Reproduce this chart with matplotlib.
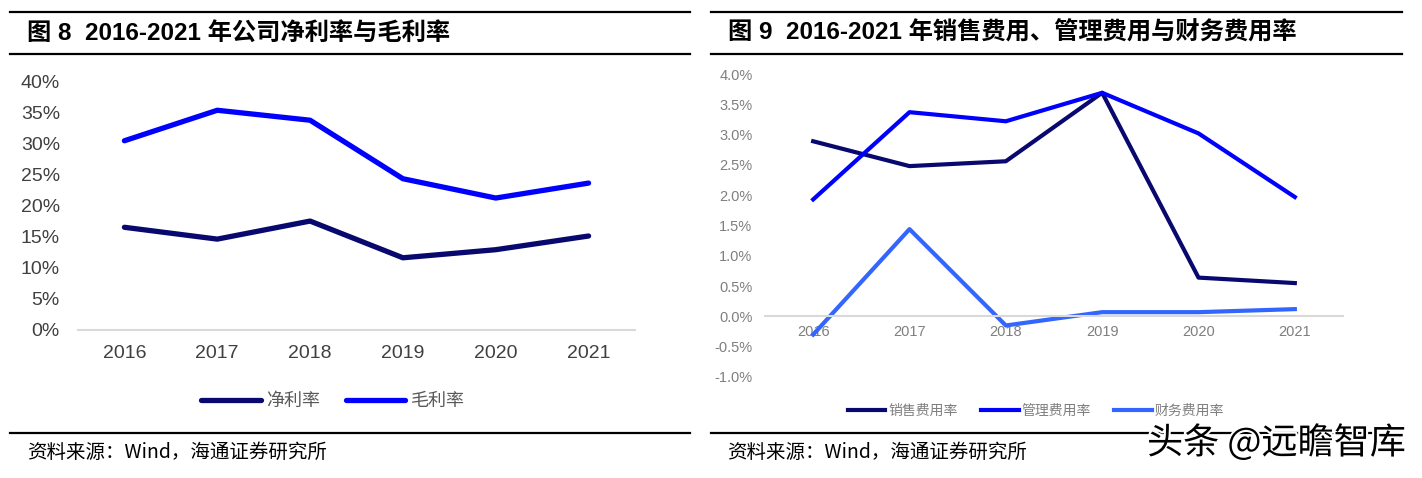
import matplotlib
matplotlib.use('Agg')
import matplotlib.pyplot as plt
from matplotlib.lines import Line2D
import matplotlib.patheffects as pe

# ---- data ----
years = ['2016', '2017', '2018', '2019', '2020', '2021']
net_margin = [16.5, 14.6, 17.5, 11.6, 12.9, 15.1]
gross_margin = [30.4, 35.3, 33.7, 24.3, 21.2, 23.6]

sales_rate = [2.89, 2.48, 2.56, 3.69, 0.64, 0.55]
admin_rate = [1.93, 3.37, 3.22, 3.69, 3.02, 1.97]
finance_rate = [-0.30, 1.44, -0.15, 0.07, 0.07, 0.12]

left_yticks = [0, 5, 10, 15, 20, 25, 30, 35, 40]
right_yticks = [-1.0, -0.5, 0.0, 0.5, 1.0, 1.5, 2.0, 2.5, 3.0, 3.5, 4.0]

title_left = '图 8  2016-2021 年公司净利率与毛利率'
title_right = '图 9  2016-2021 年销售费用、管理费用与财务费用率'
source_text = '资料来源：Wind，海通证券研究所'

FONTS = ['Liberation Sans', 'Noto Sans CJK SC']
plt.rcParams['font.family'] = FONTS

W, H = 1422, 478
fig = plt.figure(figsize=(W / 100, H / 100), dpi=100, facecolor='white')


def box(l, r, top, bottom):
    return [l / W, 1 - bottom / H, (r - l) / W, (bottom - top) / H]


def hline(x0, x1, y):
    fig.add_artist(Line2D([x0 / W, x1 / W], [1 - y / H, 1 - y / H],
                          transform=fig.transFigure, color='black', lw=1.6))


# frame lines for both panels
for x0, x1 in [(10, 690), (711, 1402)]:
    hline(x0, x1, 12)
    hline(x0, x1, 54)
    hline(x0, x1, 433)

fig.text(27 / W, 1 - 33 / H, title_left, fontsize=17.5, fontweight='bold',
         va='center', ha='left', family=FONTS)
fig.text(728 / W, 1 - 33 / H, title_right, fontsize=17.5, fontweight='bold',
         va='center', ha='left', family=FONTS)
fig.text(27 / W, 1 - 452 / H, source_text, fontsize=14, va='center',
         ha='left', family=['Noto Sans CJK SC'])
fig.text(727 / W, 1 - 452 / H, source_text, fontsize=14, va='center',
         ha='left', family=['Noto Sans CJK SC'])

x = list(range(len(years)))

# ---- left chart ----
ax1 = fig.add_axes(box(78, 635, 81, 330))
ax1.plot(x, net_margin, color='#08086E', lw=3.8, label='净利率',
         solid_capstyle='round', solid_joinstyle='round')
ax1.plot(x, gross_margin, color='#0000FF', lw=3.8, label='毛利率',
         solid_capstyle='round', solid_joinstyle='round')
ax1.set_xlim(-0.5, 5.5)
ax1.set_ylim(0, 40)
ax1.set_xticks(x)
ax1.set_xticklabels(years)
ax1.set_yticks(left_yticks)
ax1.set_yticklabels([f'{v}%' for v in left_yticks])
for s in ['top', 'right', 'left']:
    ax1.spines[s].set_visible(False)
ax1.spines['bottom'].set_color('#d9d9d9')
ax1.spines['bottom'].set_linewidth(1.5)
ax1.tick_params(axis='both', length=0, labelsize=14, colors='#404040')
ax1.tick_params(axis='y', pad=13)
ax1.tick_params(axis='x', pad=11)
ax1.set_facecolor('none')
ax1.legend(loc='center', bbox_to_anchor=(333 / W, 1 - 401 / H),
           bbox_transform=fig.transFigure, ncol=2, frameon=False,
           handlelength=3.3, handletextpad=0.3, columnspacing=1.4,
           prop={'family': ['Noto Sans CJK SC'], 'size': 13},
           labelcolor='#595959')

# ---- right chart ----
ax2 = fig.add_axes(box(765, 1343, 74, 377))
ax2.plot(x, sales_rate, color='#08086E', lw=3.0, label='销售费用率')
ax2.plot(x, admin_rate, color='#0000FF', lw=3.0, label='管理费用率')
ax2.plot(x, finance_rate, color='#3366FF', lw=3.0, label='财务费用率')
ax2.set_xlim(-0.5, 5.5)
ax2.set_ylim(-1.0, 4.0)
ax2.set_xticks(x)
ax2.set_xticklabels(years)
ax2.set_yticks(right_yticks)
ax2.set_yticklabels([f'{v:.1f}%' for v in right_yticks])
for s in ['top', 'right', 'left']:
    ax2.spines[s].set_visible(False)
ax2.spines['bottom'].set_position(('data', 0))
ax2.spines['bottom'].set_color('#d9d9d9')
ax2.spines['bottom'].set_linewidth(1.5)
ax2.tick_params(axis='both', length=0, labelsize=10.5, colors='#7f7f7f')
ax2.tick_params(axis='y', pad=9)
ax2.tick_params(axis='x', pad=6)
ax2.set_facecolor('none')
ax2.legend(loc='center', bbox_to_anchor=(1036 / W, 1 - 411 / H),
           bbox_transform=fig.transFigure, ncol=3, frameon=False,
           handlelength=2.7, handletextpad=0.2, columnspacing=1.7,
           prop={'family': ['Noto Sans CJK SC'], 'size': 10},
           labelcolor='#7f7f7f')

# watermark
fig.text(1147 / W, 1 - 443 / H, '头条 @远瞻智库', fontsize=26, va='center',
         ha='left', color='black', family=['Noto Sans CJK SC'],
         path_effects=[pe.withStroke(linewidth=3, foreground='white')])

fig.savefig('out.png', dpi=100, facecolor='white')
